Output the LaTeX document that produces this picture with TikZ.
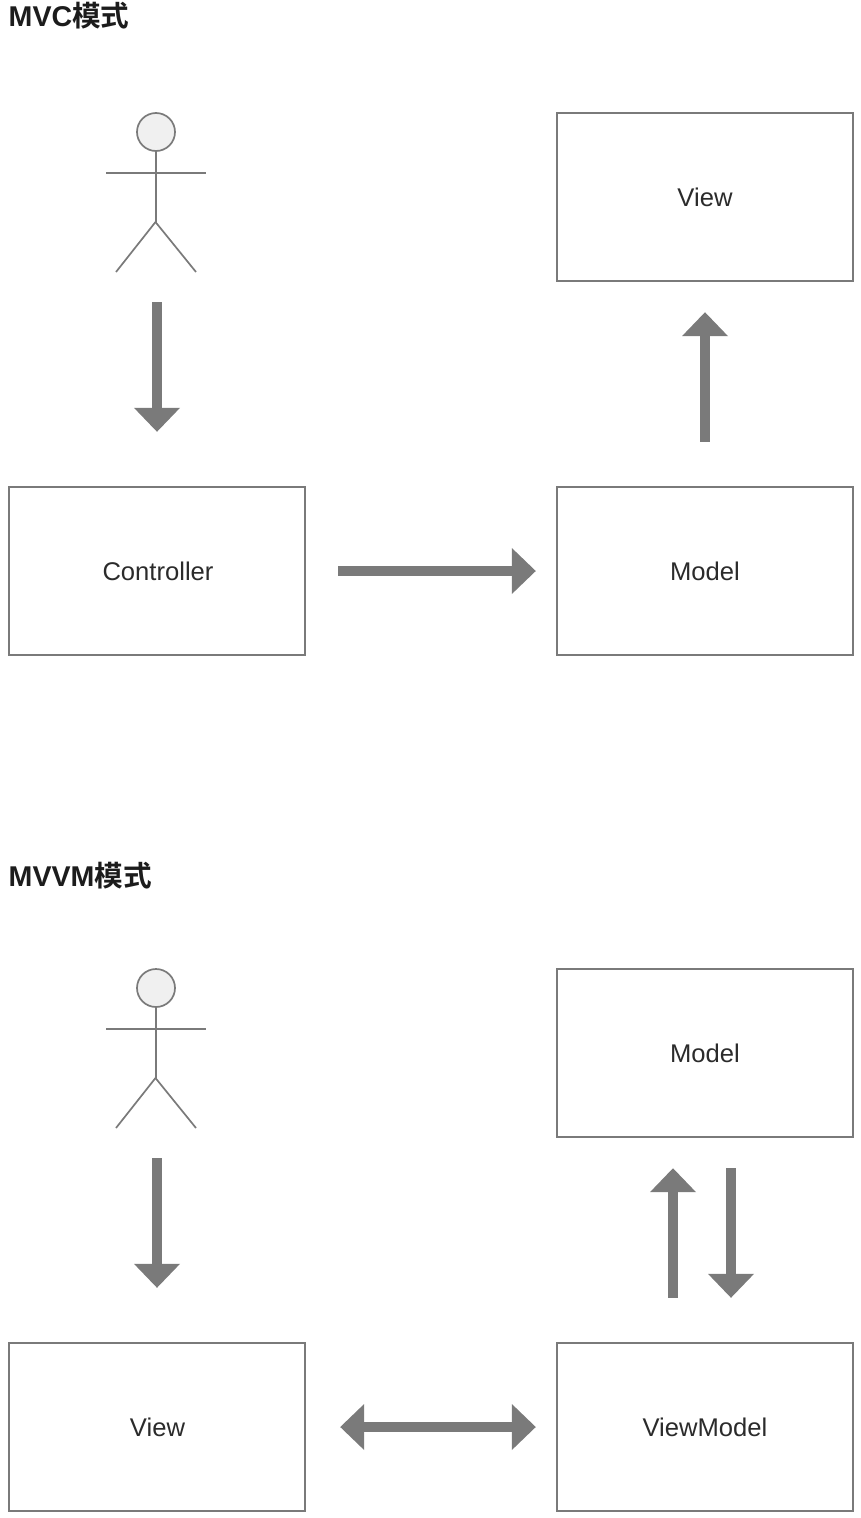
\documentclass[tikz,border=0pt]{standalone}
\usepackage{fontspec}
\setmainfont{Liberation Sans}
\newfontfamily\cjkbold[BoldFont={Noto Sans CJK SC Bold}]{Noto Sans CJK SC}
\usetikzlibrary{arrows.meta}
\definecolor{linegray}{HTML}{7A7A7A}
\definecolor{headfill}{HTML}{F0F0F0}
\definecolor{labelcol}{HTML}{2B2B2B}
\definecolor{titlecol}{HTML}{1C1C1C}
\tikzset{
  box/.style={draw=linegray,line width=1.7pt,fill=white,minimum width=296pt,minimum height=168pt,inner sep=0pt,
    text=labelcol,font=\fontsize{25.6pt}{30pt}\selectfont},
  titletext/.style={anchor=base west,inner sep=0pt,text=titlecol},
  limb/.style={draw=linegray,line width=1.7pt},
  spine/.style={draw=linegray,line width=2pt},
  head/.style={circle,draw=linegray,fill=headfill,line width=1.7pt,minimum size=38pt,inner sep=0pt},
  flow/.style={draw=linegray,line width=10pt,-{Triangle[length=24pt,width=44.5pt]},color=linegray},
  flowboth/.style={draw=linegray,line width=10pt,{Triangle[length=24pt,width=44.5pt]}-{Triangle[length=24pt,width=44.5pt]},color=linegray},
}
\newcommand{\titlelabel}[1]{\fontsize{28.6pt}{32pt}\selectfont\bfseries #1{\cjkbold\bfseries 模式}}
\begin{document}
\begin{tikzpicture}[x=1pt,y=-1pt]
\useasboundingbox (0,0) rectangle (860,1518);
% titles
\node[titletext] (t1) at (8.5,26) {\titlelabel{MVC}};
\node[titletext] (t2) at (8.5,886) {\titlelabel{MVVM}};
% MVC boxes
\node[box] (view1) at (705,197) {View};
\node[box] (ctrl) at (157,571) {\kern2pt Controller};
\node[box] (model1) at (705,571) {Model};
% MVVM boxes
\node[box] (model2) at (705,1053) {Model};
\node[box] (view2) at (157,1427) {\kern1pt View};
\node[box] (vm) at (705,1427) {ViewModel};
% actor 1
\node[head] (h1) at (156,132) {};
\draw[spine] (h1.south) ++(-0.5,0) -- (155.5,222) coordinate (hip1);
\draw[limb] (106,173) coordinate (al1) -- (206,173) coordinate (ar1);
\draw[limb] (116,272) coordinate (fl1) -- (hip1) -- (196,272) coordinate (fr1);
% actor 2
\node[head] (h2) at (156,988) {};
\draw[spine] (h2.south) ++(-0.5,0) -- (155.5,1078) coordinate (hip2);
\draw[limb] (106,1029) coordinate (al2) -- (206,1029) coordinate (ar2);
\draw[limb] (116,1128) coordinate (fl2) -- (hip2) -- (196,1128) coordinate (fr2);
% free ends
\coordinate (a1) at (157,302);
\coordinate (a2) at (157,1158);
% MVC arrows
\draw[flow] (a1) -- (ctrl.north -| a1) [shorten >=54.3pt];
\draw[flow,shorten <=32.5pt,shorten >=20.3pt] (ctrl.east) -- (model1.west);
\draw[flow,shorten <=44.3pt,shorten >=30.3pt] (model1.north) -- (view1.south);
% MVVM arrows
\draw[flow] (a2) -- (view2.north -| a2) [shorten >=54.3pt];
\draw[flowboth,shorten <=34.3pt,shorten >=20.3pt] (view2.east) -- (vm.west);
\coordinate (vmu) at ([xshift=-32pt]vm.north);
\coordinate (vmd) at ([xshift=26pt]vm.north);
\coordinate (mu) at ([xshift=-32pt]model2.south);
\coordinate (md) at ([xshift=26pt]model2.south);
\draw[flow,shorten <=44.3pt,shorten >=30.3pt] (vmu) -- (mu);
\draw[flow,shorten <=30.3pt,shorten >=44.3pt] (md) -- (vmd);
\end{tikzpicture}
\end{document}
